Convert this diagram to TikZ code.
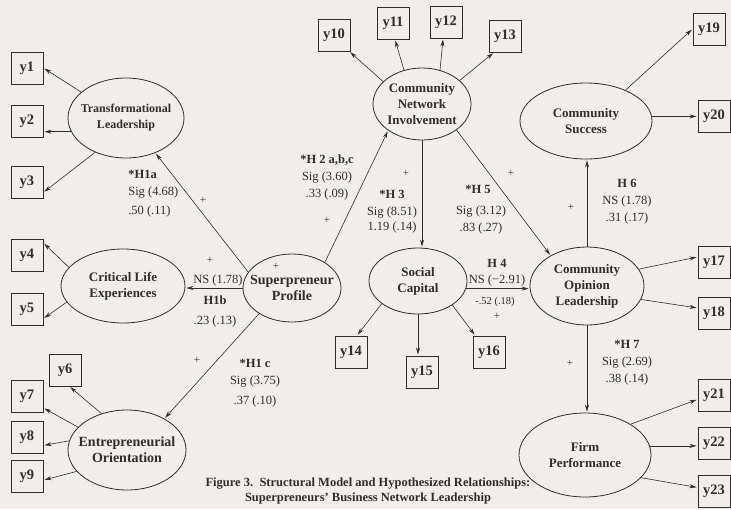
\documentclass[tikz,border=0pt]{standalone}
\usepackage{fontspec}
\setmainfont{Liberation Serif}
\usepackage{xcolor}
\usepackage{tikz}
\usetikzlibrary{arrows.meta,shapes.geometric}

\definecolor{ink}{RGB}{50,45,45}
\definecolor{paper}{RGB}{239,238,234}

\begin{document}
\begin{tikzpicture}[->,>={Stealth[length=7pt,width=4pt]},shorten >=1pt,x=1pt,y=-1pt,
                      line width=0.6pt,color=ink,
                      latent node/.style={ellipse,draw,line width=0.8pt,inner xsep=-15pt,inner ysep=-10pt,align=center,font=\fontsize{13}{16}\selectfont\bfseries},
                      item node/.style={rectangle,draw,line width=1pt,minimum size=32pt,inner sep=0pt,font=\fontsize{14.5}{16}\selectfont\bfseries},
                      stat node/.style={align=center,inner sep=0pt,font=\fontsize{12.5}{17}\selectfont},
                      plus node/.style={inner sep=0pt,font=\fontsize{11}{12}\selectfont}]

    \path[-,use as bounding box,fill=paper] (0,0) rectangle (731,509);

    % latent constructs
    \node[latent node, minimum width=116pt, minimum height=80pt, font=\fontsize{12}{16}\selectfont\bfseries] (tl) at (126,118) {Transformational\\Leadership};
    \node[latent node, minimum width=124pt, minimum height=74pt] (cle) at (123,286) {Critical Life\\Experiences};
    \node[latent node, minimum width=118pt, minimum height=80pt, font=\fontsize{14}{16}\selectfont\bfseries] (eo) at (127,450) {Entrepreneurial\\Orientation};
    \node[latent node, minimum width=98pt, minimum height=68pt, font=\fontsize{14}{16}\selectfont\bfseries] (sp) at (292,288) {Superpreneur\\Profile};
    \node[latent node, minimum width=98pt, minimum height=72pt] (cni) at (422,104) {Community\\Network\\Involvement};
    \node[latent node, minimum width=98pt, minimum height=66pt] (sc) at (418,281) {Social\\Capital};
    \node[latent node, minimum width=132pt, minimum height=76pt] (cs) at (586,121) {Community\\Success};
    \node[latent node, minimum width=114pt, minimum height=78pt] (col) at (587,286) {Community\\Opinion\\Leadership};
    \node[latent node, minimum width=132pt, minimum height=84pt] (fp) at (585,455) {Firm\\Performance};

    % indicators
    \node[item node] (y1) at (27,68) {y1};
    \node[item node] (y2) at (27,121) {y2};
    \node[item node] (y3) at (27,182) {y3};
    \node[item node] (y4) at (27,255) {y4};
    \node[item node] (y5) at (27,309) {y5};
    \node[item node] (y6) at (65,370) {y6};
    \node[item node] (y7) at (27,396) {y7};
    \node[item node] (y8) at (27,437) {y8};
    \node[item node] (y9) at (27,476) {y9};
    \node[item node] (y10) at (334,35) {y10};
    \node[item node] (y11) at (393,23) {y11};
    \node[item node] (y12) at (446,22) {y12};
    \node[item node] (y13) at (505,36) {y13};
    \node[item node] (y14) at (351,352) {y14};
    \node[item node] (y15) at (422,372) {y15};
    \node[item node] (y16) at (489,352) {y16};
    \node[item node] (y17) at (714,262) {y17};
    \node[item node] (y18) at (714,313) {y18};
    \node[item node] (y19) at (709,29) {y19};
    \node[item node] (y20) at (714,116) {y20};
    \node[item node] (y21) at (714,395) {y21};
    \node[item node] (y22) at (714,443) {y22};
    \node[item node] (y23) at (714,491) {y23};

    \path
      (tl.150) edge (y1.east)
      (tl.194) edge (tl.194 -| y2.east)
      (tl.228) edge (y3.-32)
      (cle.161) edge (y4.36)
      (cle.196) edge (y5.-30)
      (eo.125) edge (y6.-75)
      (eo.155) edge (y7.-36)
      (eo.171) edge (y8.-27)
      (eo.203) edge (y9.-14)
      (cni.150) edge (y10.-47)
      (cni.118) edge (y11.-83)
      (cni.62) edge (y12.-100)
      (cni.32) edge (y13.-124)
      (sc.212) edge (y14.70)
      (sc.south) edge (sc.south |- y15.north)
      (sc.-35) edge (y16.130)
      (cs.38) edge (y19.west)
      (cs.4) edge (cs.4 -| y20.west)
      (col.18) edge (y17.163)
      (col.-14) edge (y18.163)
      (fp.34) edge (y21.195)
      (fp.8) edge (fp.8 -| y22.west)
      (fp.-22) edge (y23.168)
    ;

    % structural paths
    \path
      (sp.160) edge (tl.-50)
      (sp.west) edge (sp.west -| cle.east)
      (sp.218) edge (eo.40)
      (sp.38) edge (cni.218)
      (cni.south) edge (cni.south |- sc.north)
      (cni.-37) edge (col.140)
      (sc.-9) edge (sc.-9 -| col.west)
      (col.north) edge (col.north |- cs.south)
      (col.south) edge (col.south |- fp.north)
    ;

    \node[stat node, align=left, anchor=west] (h1a) at (128,194) {\textbf{*H1a}\\Sig (4.68)\\[2pt].50 (.11)};
    \node[stat node] (h2) at (327,177) {\textbf{*H 2 a,b,c}\\Sig (3.60)\\.33 (.09)};
    \node[stat node] (h1b ns) at (218,280) {NS (1.78)};
    \node[stat node] (h1b) at (215,311) {\textbf{H1b}\\[3pt].23 (.13)};
    \node[stat node] (h1c) at (255,383) {\textbf{*H1 c}\\Sig (3.75)\\[3pt].37 (.10)};
    \node[stat node] (h3) at (392,212) {\textbf{*H 3}\\Sig (8.51)\\[-2pt]1.19 (.14)};
    \node[stat node] (h5) at (478,189) {\textbf{*H 5}};
    \node[stat node] (h5 sig) at (481,219.5) {Sig (3.12)\\.83 (.27)};
    \node[stat node] (h6) at (627,202) {\textbf{H 6}\\NS (1.78)\\.31 (.17)};
    \node[stat node] (h4) at (497,273) {\textbf{H 4}\\[-1pt]NS (−2.91)};
    \node[stat node, font=\fontsize{10.5}{12}\selectfont] (h4 est) at (495,302) {-.52 (.18)};
    \node[stat node] (h7) at (627,363) {\textbf{*H 7}\\Sig (2.69)\\.38 (.14)};

    \node[plus node] (p1) at (203,200) {+};
    \node[plus node] (p2) at (327,220) {+};
    \node[plus node] (p3) at (210,260) {+};
    \node[plus node] (p4) at (276,266) {+};
    \node[plus node] (p5) at (197,360) {+};
    \node[plus node] (p6) at (406,173) {+};
    \node[plus node] (p7) at (511,173) {+};
    \node[plus node] (p8) at (571,207) {+};
    \node[plus node] (p9) at (497,316) {+};
    \node[plus node] (p10) at (570,363) {+};

    \node[align=center, anchor=north, inner sep=0pt, font=\fontsize{12.5}{15}\selectfont\bfseries] (caption) at (368,478)
      {Figure 3.\ \ Structural Model and Hypothesized Relationships:\\Superpreneurs’ Business Network Leadership};

\end{tikzpicture}
\end{document}
